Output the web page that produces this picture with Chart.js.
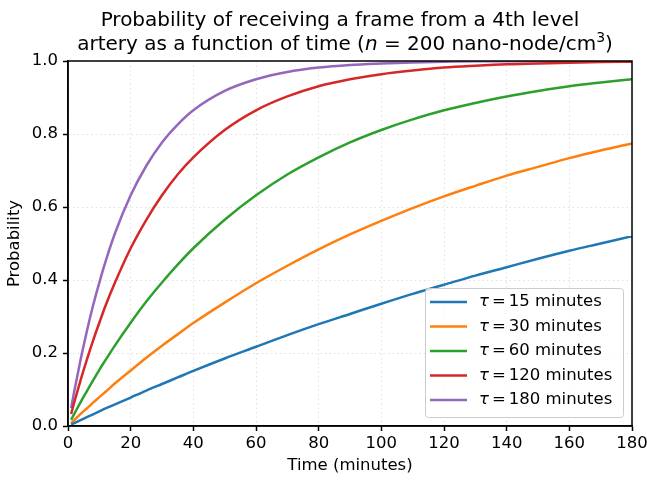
<!DOCTYPE html>
<html>
<head>
<meta charset="utf-8">
<script src="https://cdn.jsdelivr.net/npm/chart.js@4"></script>
<style>
    body { margin: 0; background: #fff; }
    canvas { display: block; }
</style>
</head>
<body>
<canvas id="chart" width="647" height="481"></canvas>
<script>
// time in minutes
const times = [1, 2, 4, 6, 8, 10, 12, 15, 20, 25, 30, 35, 40, 50, 60, 70, 80, 90, 100, 110, 120, 130, 140, 150, 160, 170, 180];

const tau15 = [0.004, 0.008, 0.016, 0.024, 0.032, 0.040, 0.048, 0.059, 0.078, 0.097, 0.115, 0.133, 0.151, 0.185, 0.217, 0.249, 0.279, 0.307, 0.335, 0.362, 0.387, 0.412, 0.435, 0.458, 0.480, 0.500, 0.520];
const tau30 = [0.008, 0.016, 0.033, 0.048, 0.064, 0.079, 0.094, 0.117, 0.152, 0.187, 0.220, 0.251, 0.282, 0.338, 0.391, 0.439, 0.484, 0.525, 0.562, 0.597, 0.629, 0.658, 0.686, 0.710, 0.734, 0.755, 0.774];
const tau60 = [0.017, 0.033, 0.065, 0.095, 0.125, 0.154, 0.181, 0.221, 0.283, 0.341, 0.393, 0.442, 0.487, 0.565, 0.632, 0.689, 0.736, 0.777, 0.811, 0.840, 0.865, 0.885, 0.903, 0.918, 0.931, 0.941, 0.950];
const tau120 = [0.033, 0.065, 0.125, 0.181, 0.234, 0.283, 0.330, 0.393, 0.487, 0.565, 0.632, 0.689, 0.736, 0.811, 0.865, 0.903, 0.931, 0.950, 0.964, 0.974, 0.982, 0.987, 0.991, 0.993, 0.995, 0.997, 0.998];
const tau180 = [0.049, 0.095, 0.181, 0.259, 0.330, 0.393, 0.451, 0.528, 0.632, 0.713, 0.777, 0.826, 0.865, 0.918, 0.950, 0.970, 0.982, 0.989, 0.993, 0.996, 0.998, 0.999, 0.999, 1.000, 1.000, 1.000, 1.000];

const tauLabels = ['15', '30', '60', '120', '180'];
const colors = ['#1f77b4', '#ff7f0e', '#2ca02c', '#d62728', '#9467bd'];

const FONT = "'DejaVu Sans', sans-serif";
const TICK_SIZE = 16.5;

const makeSet = (values, i) => ({
    label: tauLabels[i],
    data: times.map((t, k) => ({ x: t, y: values[k] })),
    borderColor: colors[i],
    borderWidth: 2.5,
    pointRadius: 0,
    fill: false,
    cubicInterpolationMode: 'monotone'
});

// title with italic n and superscript 3
const titlePlugin = {
    id: 'mplTitle',
    afterDraw(chart) {
        const ctx = chart.ctx;
        const cx = (chart.chartArea.left + chart.chartArea.right) / 2;
        ctx.save();
        ctx.fillStyle = '#000';
        ctx.textBaseline = 'alphabetic';
        ctx.font = `20px ${FONT}`;
        ctx.textAlign = 'center';
        ctx.fillText('Probability of receiving a frame from a 4th level', cx - 10, 26);

        const parts = [
            { t: 'artery as a function of time (', f: `20px ${FONT}`, dy: 0 },
            { t: 'n', f: `italic 20px ${FONT}`, dy: 0 },
            { t: ' = 200 nano-node/cm', f: `20px ${FONT}`, dy: 0 },
            { t: '3', f: `14px ${FONT}`, dy: -8 },
            { t: ')', f: `20px ${FONT}`, dy: 0 }
        ];
        let total = 0;
        parts.forEach(p => { ctx.font = p.f; p.w = ctx.measureText(p.t).width; total += p.w; });
        let x = cx - 5 - total / 2;
        ctx.textAlign = 'left';
        parts.forEach(p => {
            ctx.font = p.f;
            ctx.fillText(p.t, x, 50 + p.dy);
            x += p.w;
        });
        ctx.restore();
    }
};

// top/right spines + legend inside the axes
const framePlugin = {
    id: 'frameLegend',
    afterDraw(chart) {
        const ctx = chart.ctx;
        const a = chart.chartArea;
        ctx.save();
        ctx.strokeStyle = '#000';
        ctx.lineWidth = 1.5;
        ctx.strokeRect(a.left, a.top, a.right - a.left, a.bottom - a.top);

        // legend box
        const w = 198, h = 129;
        const bx = a.right - 9 - w, by = a.bottom - 9 - h;
        ctx.fillStyle = 'rgba(255,255,255,0.8)';
        ctx.strokeStyle = '#cccccc';
        ctx.lineWidth = 1;
        ctx.beginPath();
        ctx.roundRect(bx + 0.5, by + 0.5, w, h, 3);
        ctx.fill();
        ctx.stroke();

        chart.data.datasets.forEach((ds, i) => {
            const y = by + 14 + i * 24.5;
            ctx.strokeStyle = ds.borderColor;
            ctx.lineWidth = 2.5;
            ctx.beginPath();
            ctx.moveTo(bx + 5, y);
            ctx.lineTo(bx + 42, y);
            ctx.stroke();

            ctx.fillStyle = '#000';
            ctx.textBaseline = 'middle';
            ctx.textAlign = 'left';
            let x = bx + 54;
            ctx.font = `italic 16.5px ${FONT}`;
            ctx.fillText('τ', x, y);
            x += ctx.measureText('τ').width + 3;
            ctx.font = `16.5px ${FONT}`;
            ctx.fillText('=', x, y);
            x += ctx.measureText('=').width + 3;
            ctx.fillText(ds.label + ' minutes', x, y);
        });
        ctx.restore();
    }
};

const ctx = document.getElementById('chart').getContext('2d');
new Chart(ctx, {
    type: 'line',
    data: {
        datasets: [tau15, tau30, tau60, tau120, tau180].map(makeSet)
    },
    options: {
        responsive: false,
        animation: false,
        layout: {
            padding: { top: 61, right: 15, left: 0, bottom: 0 }
        },
        scales: {
            x: {
                type: 'linear',
                min: 0,
                max: 180,
                afterFit: s => {
                    s.height = 55;
                    s.paddingLeft = 0;
                    s.paddingRight = 0;
                },
                ticks: {
                    stepSize: 20,
                    color: '#000',
                    padding: 3,
                    font: { family: FONT, size: TICK_SIZE }
                },
                grid: {
                    color: 'rgba(0,0,0,0.12)',
                    tickColor: '#000',
                    tickLength: 5,
                    tickWidth: 1.5
                },
                border: {
                    color: '#000',
                    width: 1.5,
                    dash: [1.5, 3]
                },
                title: {
                    display: true,
                    text: 'Time (minutes)',
                    color: '#000',
                    font: { family: FONT, size: TICK_SIZE },
                    padding: { top: 2, bottom: 5 }
                }
            },
            y: {
                min: 0,
                max: 1,
                afterFit: s => {
                    s.width = 68;
                    s.paddingTop = 0;
                    s.paddingBottom = 0;
                },
                ticks: {
                    stepSize: 0.2,
                    color: '#000',
                    padding: 5,
                    font: { family: FONT, size: TICK_SIZE },
                    callback: v => v.toFixed(1)
                },
                grid: {
                    color: 'rgba(0,0,0,0.12)',
                    tickColor: '#000',
                    tickLength: 5,
                    tickWidth: 1.5
                },
                border: {
                    color: '#000',
                    width: 1.5,
                    dash: [1.5, 3]
                },
                title: {
                    display: true,
                    text: 'Probability',
                    color: '#000',
                    font: { family: FONT, size: TICK_SIZE },
                    padding: { top: 5, bottom: 2 }
                }
            }
        },
        plugins: {
            legend: { display: false },
            title: { display: false },
            tooltip: { enabled: false }
        }
    },
    plugins: [titlePlugin, framePlugin]
});
</script>
</body>
</html>
